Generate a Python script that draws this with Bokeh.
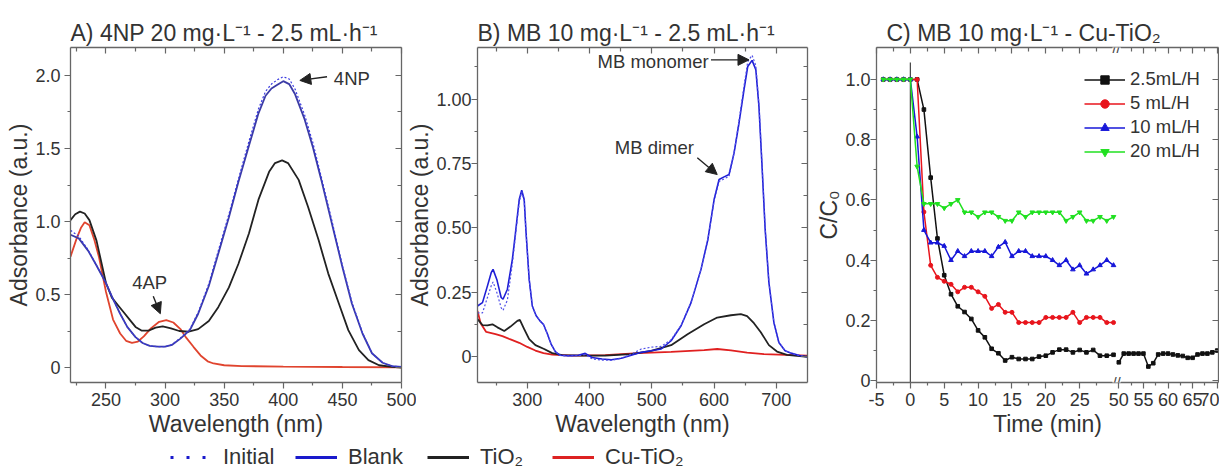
from bokeh.plotting import figure
from bokeh.layouts import row, column
from bokeh.models import (Range1d, FixedTicker, LinearAxis, Legend, LegendItem,
                          Arrow, NormalHead, Label, CustomLabelingPolicy)
from bokeh.embed import file_html
from bokeh.resources import INLINE

# ---------------- data: panel A (4NP) ----------------
a_wl_blank = [220, 227, 235, 242, 250, 256, 262, 268, 275, 281, 287, 294, 300, 306, 313, 321,
              328, 337, 345, 354, 362, 371, 379, 385, 390, 395, 400, 405, 410, 418, 425, 432,
              441, 450, 458, 467, 475, 484, 492, 500]
a_blank = [0.91, 0.885, 0.80, 0.70, 0.58, 0.47, 0.37, 0.28, 0.21, 0.17, 0.15, 0.145, 0.145, 0.158,
           0.20, 0.258, 0.37, 0.56, 0.78, 1.03, 1.27, 1.52, 1.74, 1.86, 1.91, 1.935, 1.96, 1.94,
           1.87, 1.70, 1.51, 1.29, 0.99, 0.69, 0.44, 0.235, 0.10, 0.035, 0.012, 0.007]
a_initial = [0.94, 0.90, 0.805, 0.70, 0.58, 0.47, 0.37, 0.28, 0.21, 0.17, 0.15, 0.145, 0.145, 0.16,
             0.205, 0.265, 0.38, 0.575, 0.80, 1.05, 1.29, 1.55, 1.77, 1.89, 1.94, 1.97, 1.99, 1.975,
             1.905, 1.73, 1.54, 1.31, 1.01, 0.70, 0.45, 0.24, 0.10, 0.035, 0.012, 0.007]
a_wl_tio2 = [220, 224, 228, 232, 236, 242, 250, 255, 260, 265, 270, 275, 280, 286, 292, 298, 305,
             312, 320, 328, 337, 345, 354, 362, 371, 379, 388, 393, 399, 404, 413, 421, 430, 438,
             447, 455, 464, 472, 481, 492, 500]
a_tio2 = [1.01, 1.05, 1.068, 1.055, 1.01, 0.87, 0.58, 0.48, 0.43, 0.38, 0.33, 0.28, 0.255, 0.255,
          0.275, 0.283, 0.27, 0.252, 0.247, 0.265, 0.32, 0.415, 0.55, 0.71, 0.92, 1.15, 1.34, 1.40,
          1.418, 1.40, 1.285, 1.10, 0.87, 0.646, 0.44, 0.258, 0.121, 0.053, 0.018, 0.007, 0.002]
a_wl_cu = [220, 225, 229, 232, 236, 240, 244, 250, 256, 262, 267, 272, 277, 282, 288, 295, 301,
           307, 313, 318, 324, 330, 336, 341, 350, 365, 400, 450, 500]
a_cu = [0.76, 0.88, 0.96, 0.995, 0.975, 0.88, 0.76, 0.52, 0.33, 0.235, 0.185, 0.171, 0.18, 0.215,
        0.27, 0.315, 0.327, 0.31, 0.265, 0.205, 0.144, 0.085, 0.045, 0.03, 0.018, 0.012, 0.009,
        0.006, 0.004]

# ---------------- data: panel B (MB) ----------------
b_wl_blank = [220, 228, 236, 242, 245, 251, 258, 261, 268, 276, 281, 287, 291, 295, 298, 303, 308,
              314, 320, 326, 332, 338, 345, 352, 366, 382, 393, 404, 420, 435, 451, 467, 483, 499,
              515, 531, 547, 563, 579, 590, 600, 608, 616, 624, 632, 640, 648, 654, 661, 667, 672,
              677, 682, 688, 696, 704, 714, 725, 738, 750]
b_blank = [0.197, 0.21, 0.275, 0.326, 0.339, 0.30, 0.23, 0.223, 0.262, 0.378, 0.481, 0.61, 0.646,
           0.61, 0.481, 0.30, 0.197, 0.16, 0.14, 0.125, 0.09, 0.05, 0.02, 0.006, 0.004, 0.006, 0.013,
           -0.003, -0.009, -0.012, -0.006, 0.006, 0.017, 0.023, 0.03, 0.062, 0.12, 0.21, 0.339,
           0.455, 0.61, 0.688, 0.698, 0.707, 0.79, 0.907, 1.036, 1.126, 1.15, 1.114, 0.972, 0.739,
           0.494, 0.288, 0.133, 0.055, 0.023, 0.013, 0.004, 0.0]
b_initial = [0.17, 0.17, 0.23, 0.275, 0.29, 0.25, 0.19, 0.18, 0.22, 0.36, 0.47, 0.60, 0.64,
             0.605, 0.48, 0.30, 0.197, 0.16, 0.14, 0.125, 0.09, 0.05, 0.02, 0.006, 0.002, 0.004,
             0.008, -0.008, -0.013, -0.014, -0.006, 0.01, 0.03, 0.037, 0.04, 0.066, 0.122, 0.212,
             0.34, 0.455, 0.605, 0.68, 0.69, 0.70, 0.79, 0.915, 1.05, 1.145, 1.17, 1.13, 0.98, 0.745,
             0.50, 0.29, 0.135, 0.056, 0.023, 0.013, 0.004, 0.0]
b_wl_tio2 = [220, 228, 236, 244, 252, 263, 273, 284, 288, 295, 303, 313, 327, 340, 356, 388, 425,
             467, 499, 531, 558, 584, 605, 627, 643, 653, 664, 675, 688, 701, 717, 750]
b_tio2 = [0.146, 0.123, 0.122, 0.126, 0.114, 0.10, 0.117, 0.139, 0.143, 0.107, 0.068, 0.045, 0.03,
          0.014, 0.006, 0.004, 0.004, 0.01, 0.023, 0.045, 0.088, 0.126, 0.152, 0.161, 0.165, 0.158,
          0.13, 0.095, 0.045, 0.02, 0.007, 0.0]
b_wl_cu = [220, 225, 234, 249, 260, 272, 287, 300, 313, 326, 340, 372, 425, 478, 531, 584, 605,
           627, 653, 680, 750]
b_cu = [0.178, 0.13, 0.096, 0.088, 0.08, 0.068, 0.054, 0.038, 0.024, 0.014, 0.008, 0.004, 0.006,
        0.014, 0.019, 0.026, 0.03, 0.025, 0.016, 0.01, 0.004]

# ---------------- data: panel C (C/C0 vs time) ----------------
c_time = [-4, -3, -2, -1, 0, 1, 2, 3, 4, 5, 6, 7, 8, 9, 10, 11, 12, 13, 14, 15, 16, 17, 18, 19,
          20, 21, 22, 23, 24, 25, 26, 27, 28, 29, 30]
c_2p5 = [1.0, 1.0, 1.0, 1.0, 1.0, 1.0, 0.90, 0.674, 0.472, 0.35, 0.287, 0.247, 0.228, 0.205, 0.167,
         0.144, 0.106, 0.091, 0.067, 0.078, 0.072, 0.072, 0.072, 0.08, 0.083, 0.094, 0.103, 0.103,
         0.094, 0.102, 0.094, 0.102, 0.083, 0.083, 0.086]
c_5 = [1.0, 1.0, 1.0, 1.0, 1.0, 1.0, 0.56, 0.383, 0.343, 0.33, 0.32, 0.295, 0.31, 0.31, 0.295, 0.28,
       0.24, 0.253, 0.227, 0.227, 0.193, 0.193, 0.193, 0.193, 0.21, 0.21, 0.21, 0.21, 0.227, 0.193,
       0.21, 0.21, 0.21, 0.193, 0.193]
c_10 = [1.0, 1.0, 1.0, 1.0, 1.0, 0.81, 0.50, 0.458, 0.458, 0.447, 0.40, 0.43, 0.413, 0.43, 0.43,
        0.43, 0.413, 0.444, 0.46, 0.413, 0.43, 0.43, 0.413, 0.413, 0.413, 0.40, 0.383, 0.40, 0.369,
        0.383, 0.355, 0.369, 0.383, 0.40, 0.383]
c_20 = [1.0, 1.0, 1.0, 1.0, 1.0, 0.711, 0.587, 0.587, 0.587, 0.573, 0.587, 0.60, 0.559, 0.559,
        0.544, 0.559, 0.559, 0.544, 0.531, 0.531, 0.559, 0.544, 0.559, 0.559, 0.559, 0.559, 0.559,
        0.531, 0.544, 0.559, 0.531, 0.531, 0.544, 0.531, 0.544]
c_late_time = [50, 51, 52, 53, 54, 55, 56, 57, 58, 59, 60, 61, 62, 63, 64, 65, 66, 67, 68, 69, 70]
c_late_2p5 = [0.061, 0.09, 0.09, 0.09, 0.09, 0.09, 0.047, 0.058, 0.087, 0.09, 0.09, 0.087, 0.084,
              0.082, 0.076, 0.076, 0.087, 0.09, 0.09, 0.094, 0.10]
c_light_on = [0, 0]
c_light_on_y = [-0.006, 1.056]

# tick values and labels
a_xticks = [250, 300, 350, 400, 450, 500]
a_yticks = [0, 0.5, 1.0, 1.5, 2.0]
a_ylabels = ["0", "0.5", "1.0", "1.5", "2.0"]
b_xticks = [300, 400, 500, 600, 700]
b_yticks = [0, 0.25, 0.5, 0.75, 1.0]
b_ylabels = ["0", "0.25", "0.50", "0.75", "1.00"]
c_xticks_early = [-5, 0, 5, 10, 15, 20, 25]
c_xticks_late = [50, 55, 60, 65, 70]
c_yticks = [0, 0.2, 0.4, 0.6, 0.8, 1.0]
c_ylabels = ["0", "0.2", "0.4", "0.6", "0.8", "1.0"]

# ---------------- style ----------------
FONT = "Liberation Sans"
TXT = "#333333"
AXC = "#666666"
FRAME_H = 335
TOP = 47
BOTTOM = 60
NO_LABELS = CustomLabelingPolicy(code="return;")


def make_fig(xr, yr, fw, left, right, title, title_offset=0):
    p = figure(x_range=Range1d(*xr), y_range=Range1d(*yr), frame_width=fw, frame_height=FRAME_H,
               min_border_left=left, min_border_right=right, min_border_top=TOP,
               min_border_bottom=BOTTOM, toolbar_location=None, output_backend="svg",
               title=title)
    p.outline_line_color = None
    p.xgrid.visible = False
    p.ygrid.visible = False
    p.background_fill_color = "white"
    p.border_fill_alpha = 0
    t = p.title
    t.text_font = FONT
    t.text_font_size = "23px"
    t.text_font_style = "normal"
    t.text_color = TXT
    t.align = "left"
    t.offset = title_offset
    t.standoff = 4
    return p


def style_axis(ax, outer, label_standoff=4):
    ax.axis_line_color = AXC
    ax.axis_line_width = 1.3
    ax.major_tick_line_color = AXC
    ax.minor_tick_line_color = AXC
    ax.major_tick_line_width = 1.2
    ax.minor_tick_line_width = 1.2
    ax.major_label_text_font = FONT
    ax.major_label_text_color = TXT
    ax.axis_label_text_font = FONT
    ax.axis_label_text_font_size = "23px"
    ax.axis_label_text_font_style = "normal"
    ax.axis_label_text_color = TXT
    if outer:
        ax.major_tick_out = 6
        ax.major_tick_in = 0
        ax.minor_tick_out = 3
        ax.minor_tick_in = 0
        ax.major_label_text_font_size = "18px"
        ax.major_label_standoff = label_standoff
    else:
        ax.major_tick_out = 0
        ax.major_tick_in = 6
        ax.minor_tick_out = 0
        ax.minor_tick_in = 4
        ax.major_label_text_font_size = "0px"
        ax.major_label_standoff = 0
        ax.major_label_policy = NO_LABELS


def setup_axes(p, xt, xm, yt, ym, xover, yover, xlabel, ylabel, ystandoff):
    xa = p.xaxis[0]
    ya = p.yaxis[0]
    style_axis(xa, True)
    style_axis(ya, True, ystandoff)
    xa.ticker = FixedTicker(ticks=xt, minor_ticks=xm)
    ya.ticker = FixedTicker(ticks=yt, minor_ticks=ym)
    xa.major_label_overrides = xover
    ya.major_label_overrides = yover
    xa.axis_label = xlabel
    xa.axis_label_standoff = 2
    ya.axis_label = ylabel
    ya.axis_label_standoff = 0
    top = LinearAxis(ticker=FixedTicker(ticks=xt, minor_ticks=xm))
    style_axis(top, False)
    p.add_layout(top, "above")
    rgt = LinearAxis(ticker=FixedTicker(ticks=yt, minor_ticks=ym))
    style_axis(rgt, False)
    p.add_layout(rgt, "right")


def add_text(p, x, y, text):
    p.add_layout(Label(x=x, y=y, text=text, text_font=FONT, text_font_size="18.5px",
                       text_color=TXT, text_align="center", text_baseline="middle"))


def add_arrow(p, x0, y0, x1, y1):
    p.add_layout(Arrow(end=NormalHead(size=11, fill_color="#222222", line_color="#222222"),
                       x_start=x0, y_start=y0, x_end=x1, y_end=y1,
                       line_color="#222222", line_width=1.4))


# ---------------- panel A ----------------
pa = make_fig((220, 500), (-0.1, 2.19), 331, 70, 15, "A) 4NP 20 mg·L⁻¹ - 2.5 mL·h⁻¹")
setup_axes(pa, a_xticks, [225, 275, 325, 375, 425, 475], a_yticks, [0.25, 0.75, 1.25, 1.75],
           {}, dict(zip(a_yticks, a_ylabels)), "Wavelength (nm)", "Adsorbance (a.u.)", 4)
pa.line(a_wl_cu, a_cu, line_color="#e0442e", line_width=1.8)
pa.line(a_wl_tio2, a_tio2, line_color="#222222", line_width=1.8)
pa.line(a_wl_blank, a_blank, line_color="#3b3ba6", line_width=1.8)
pa.line(a_wl_blank, a_initial, line_color="#3a3ae0", line_width=1.2, line_dash="2 2")
add_text(pa, 458, 1.981, "4NP")
add_arrow(pa, 437, 1.99, 414, 1.965)
add_text(pa, 287, 0.584, "4AP")
add_arrow(pa, 290, 0.49, 296, 0.37)

# ---------------- panel B ----------------
pb = make_fig((220, 750), (-0.1, 1.2), 330, 72, 5, "B) MB 10 mg·L⁻¹ - 2.5 mL·h⁻¹")
pb.margin = (0, 0, 0, -12)   # let B's left border overlap A's transparent right border
setup_axes(pb, b_xticks, [250, 350, 450, 550, 650], b_yticks,
           [0.125, 0.375, 0.625, 0.875, 1.125], {}, dict(zip(b_yticks, b_ylabels)),
           "Wavelength (nm)", "Adsorbance (a.u.)", 0)
pb.line(b_wl_cu, b_cu, line_color="#e02020", line_width=1.8)
pb.line(b_wl_tio2, b_tio2, line_color="#222222", line_width=1.8)
pb.line(b_wl_blank, b_blank, line_color="#1f1fd6", line_width=1.6)
pb.line(b_wl_blank, b_initial, line_color="#5050e8", line_width=1.2, line_dash="2 2")
add_text(pb, 502, 1.144, "MB monomer")
add_arrow(pb, 595, 1.152, 656, 1.152)
add_text(pb, 504, 0.812, "MB dimer")
add_arrow(pb, 573, 0.772, 605, 0.707)

# ---------------- panel C (broken time axis) ----------------
C_X0, C_X1 = -5, 45.5          # main range over the whole frame
LATE0, LATE1 = 0.75, 70.26     # second range: places 50..70 right of the break
BREAK_X = 30.45
C_Y0, C_Y1 = -0.006, 1.106


def to_main(t):
    return round(C_X0 + (t - LATE0) * (C_X1 - C_X0) / (LATE1 - LATE0), 4)


pc = make_fig((C_X0, C_X1), (C_Y0, C_Y1), 342, 64, 1, "C) MB 10 mg·L⁻¹ - Cu-TiO₂", 10)
pc.extra_x_ranges = {"late": Range1d(LATE0, LATE1)}
c_major = c_xticks_early + [to_main(t) for t in c_xticks_late]
c_minor = [-2.5, 2.5, 7.5, 12.5, 17.5, 22.5, 27.5] + [to_main(t) for t in [52.5, 57.5, 62.5, 67.5]]
c_over = {t: str(t) for t in c_xticks_early}
c_over.update({to_main(t): str(t) for t in c_xticks_late})
setup_axes(pc, c_major, c_minor, c_yticks, [0.1, 0.3, 0.5, 0.7, 0.9], c_over,
           dict(zip(c_yticks, c_ylabels)), "Time (min)", "C/C₀", 0)

pc.line(c_light_on, c_light_on_y, line_color="#444444", line_width=1.2)
series = [("2.5mL/H", c_2p5, "#111111", "square", 3.6),
          ("5 mL/H", c_5, "#e8141c", "circle", 4.0),
          ("10 mL/H", c_10, "#1717d9", "triangle", 4.6),
          ("20 mL/H", c_20, "#20e020", "inverted_triangle", 4.6)]
items = []
for name, vals, col, mk, sz in series:
    ln = pc.line(c_time, vals, line_color=col, line_width=1.5)
    sc = pc.scatter(c_time, vals, marker=mk, size=sz, fill_color=col, line_color=col)
    items.append(LegendItem(label=name, renderers=[ln, sc]))
pc.line(c_late_time, c_late_2p5, line_color="#111111", line_width=1.5, x_range_name="late")
pc.scatter(c_late_time, c_late_2p5, marker="square", size=3.6, fill_color="#111111",
           line_color="#111111", x_range_name="late")

legc = Legend(items=items, location=(208, 220), border_line_color=None, background_fill_alpha=0,
              padding=0, margin=0, spacing=2, label_standoff=5, glyph_width=41, glyph_height=21,
              label_height=21, label_text_font=FONT, label_text_font_size="18.5px",
              label_text_color=TXT)
pc.add_layout(legc)

for yb in (C_Y0, C_Y1):
    pc.add_layout(Label(x=BREAK_X, y=yb, text="//", text_font=FONT, text_font_size="15px",
                        text_color="#444444", text_align="center", text_baseline="middle",
                        background_fill_color="white"))

# ---------------- shared legend strip ----------------
pl = figure(width=1218, height=28, x_range=Range1d(0, 1218), y_range=Range1d(0, 28),
            toolbar_location=None, output_backend="svg", min_border=0,
            x_axis_location=None, y_axis_location=None)
pl.outline_line_color = None
pl.xgrid.visible = False
pl.ygrid.visible = False
offscreen_x = [-20, -10]   # legend-only renderers, kept outside the strip's range
offscreen_y = [-20, -20]
leg_specs = [("Initial", dict(line_color="#1a1acc", line_width=3, line_dash="3 13"), 170),
             ("Blank", dict(line_color="#1a1acc", line_width=3), 295),
             ("TiO₂", dict(line_color="#222222", line_width=3), 427),
             ("Cu-TiO₂", dict(line_color="#dd2222", line_width=3), 552)]
for lab, kw, lx in leg_specs:
    r = pl.line(offscreen_x, offscreen_y, **kw)
    pl.add_layout(Legend(items=[LegendItem(label=lab, renderers=[r])], location=(lx, 0),
                         orientation="horizontal", border_line_color=None,
                         background_fill_alpha=0, padding=0, margin=0, spacing=0,
                         label_standoff=11, glyph_width=42, glyph_height=22, label_height=22,
                         label_text_font=FONT, label_text_font_size="22px",
                         label_text_color=TXT))

layout = column(row(pa, pb, pc, spacing=0), pl, spacing=0)
open("out.html", "w").write(file_html(layout, INLINE))
